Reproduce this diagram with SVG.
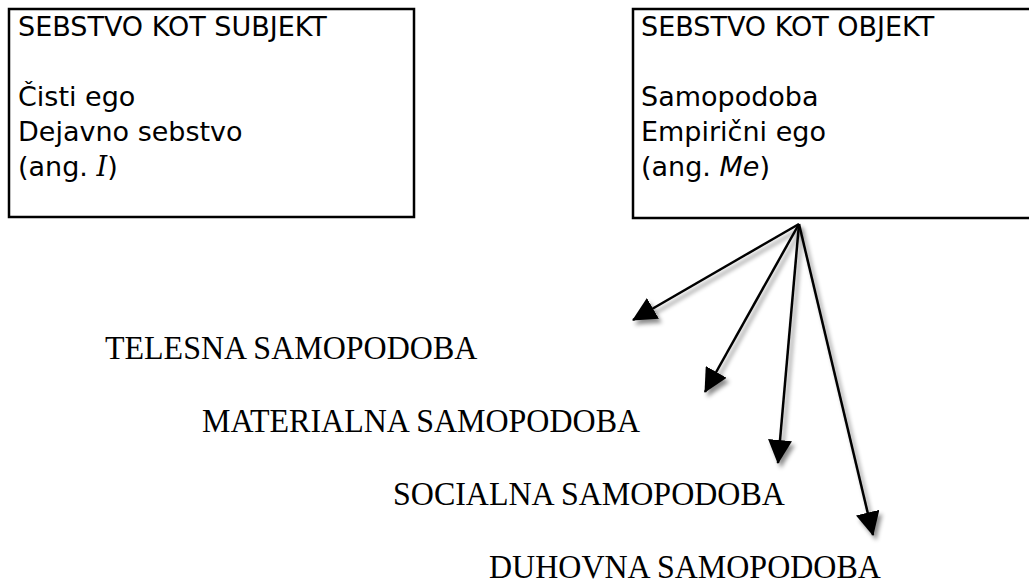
<svg xmlns="http://www.w3.org/2000/svg" width="1029" height="583" viewBox="0 0 1029 583">
<style>
.box{fill:#fff;stroke:#000;stroke-width:2.5}
.bt{font-family:"DejaVu Sans",Verdana,sans-serif;font-size:27px;fill:#000}
.lbl{font-family:"Liberation Serif","Times New Roman",serif;font-size:32px;fill:#000}
.con{stroke:#000;stroke-width:2.5;fill:none;marker-end:url(#ah)}
</style>
<defs>
<marker id="ah" viewBox="0 0 24 24" refX="23" refY="12" markerWidth="24" markerHeight="24" markerUnits="userSpaceOnUse" orient="auto">
<path d="M0,0 L24,12 L0,24 z" fill="#000"/>
</marker>
<filter id="sh" x="-20%" y="-20%" width="140%" height="140%">
<feDropShadow dx="3" dy="4" stdDeviation="2" flood-color="#000" flood-opacity="0.45"/>
</filter>
</defs>
<rect width="1029" height="583" fill="#fff"/>
<g id="subjekt">
<rect class="box" x="9" y="9" width="405" height="208"/>
<text class="bt" x="18" y="36">SEBSTVO KOT SUBJEKT</text>
<text class="bt" x="18" y="106">Čisti ego</text>
<text class="bt" x="18" y="141">Dejavno sebstvo</text>
<text class="bt" x="18" y="176">(ang. <tspan font-family="'DejaVu Serif',serif" font-style="italic">I</tspan>)</text>
</g>
<g id="objekt">
<rect class="box" x="633" y="9" width="410" height="209"/>
<text class="bt" x="641" y="36">SEBSTVO KOT OBJEKT</text>
<text class="bt" x="641" y="106">Samopodoba</text>
<text class="bt" x="641" y="141">Empirični ego</text>
<text class="bt" x="641" y="176">(ang. <tspan font-style="italic">Me</tspan>)</text>
</g>
<g id="connectors" filter="url(#sh)">
<line class="con" x1="799" y1="224" x2="633" y2="320"/>
<line class="con" x1="799" y1="224" x2="705" y2="392"/>
<line class="con" x1="799" y1="224" x2="778" y2="463"/>
<line class="con" x1="799" y1="224" x2="873" y2="535"/>
</g>
<g id="labels" transform="scale(1,1.07)">
<text id="telesna" class="lbl" x="105" y="335.5">TELESNA SAMOPODOBA</text>
<text id="materialna" class="lbl" x="202" y="403.7">MATERIALNA SAMOPODOBA</text>
<text id="socialna" class="lbl" x="393" y="472">SOCIALNA SAMOPODOBA</text>
<text id="duhovna" class="lbl" x="489" y="540">DUHOVNA SAMOPODOBA</text>
</g>
</svg>
